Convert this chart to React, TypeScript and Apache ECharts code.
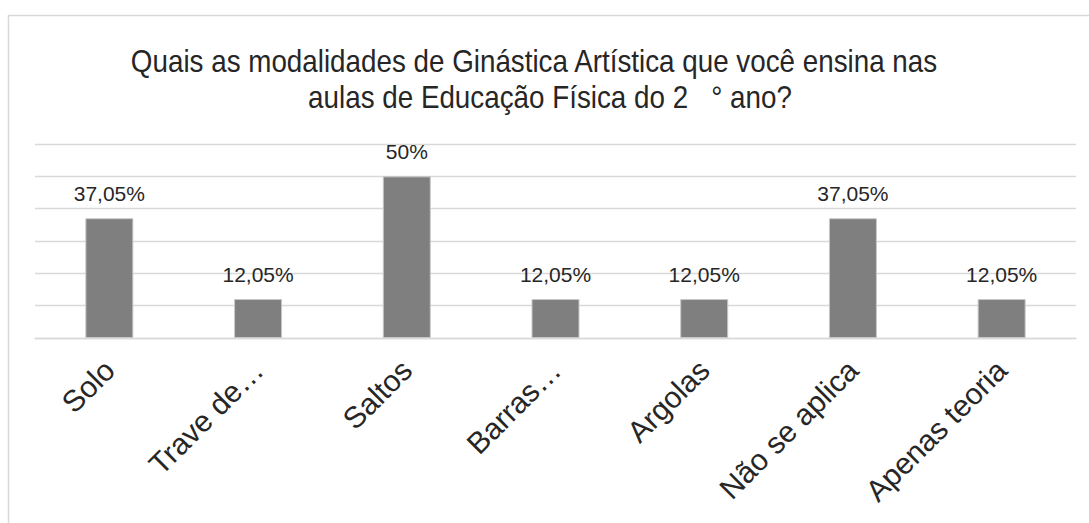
import React, { useEffect, useRef } from "react";
import * as echarts from "echarts";

const categories = ["Solo", "Trave de…", "Saltos", "Barras…", "Argolas", "Não se aplica", "Apenas teoria"];
const values = [37.05, 12.05, 50, 12.05, 12.05, 37.05, 12.05];
const titleLines = [
  "Quais as modalidades de Ginástica Artística que você ensina nas",
  "aulas de Educação Física do 2   ° ano?",
];

const FONT = "'Liberation Sans', Arial, sans-serif";

function fmt(v: number): string {
  if (Number.isInteger(v)) return `${v}%`;
  return v.toFixed(2).replace(".", ",") + "%";
}

export default function App() {
  const ref = useRef<HTMLDivElement>(null);
  useEffect(() => {
    if (!ref.current) return;
    const chart = echarts.init(ref.current, undefined, { renderer: "svg" });
    chart.setOption({
      animation: false,
      backgroundColor: "#ffffff",
      graphic: [
        {
          type: "polyline",
          shape: { points: [[8.5, 600], [8.5, 15.5], [1200, 15.5]] },
          style: { stroke: "#d9d9d9", fill: null, lineWidth: 1.5 },
          silent: true,
        },
        {
          type: "text",
          x: 534,
          y: 61,
          scaleY: 1.12,
          style: { text: titleLines[0], fill: "#262626", font: `27.8px ${FONT}`, textAlign: "center", textVerticalAlign: "middle" },
        },
        {
          type: "text",
          x: 550,
          y: 97,
          scaleY: 1.12,
          style: { text: titleLines[1], fill: "#262626", font: `27.8px ${FONT}`, textAlign: "center", textVerticalAlign: "middle" },
        },
      ],
      grid: { left: 35, right: 13, top: 144, bottom: 185, containLabel: false },
      xAxis: {
        type: "category",
        data: categories,
        axisLine: { show: true, lineStyle: { color: "#d9d9d9", width: 1.3 } },
        axisTick: { show: false },
        axisLabel: {
          rotate: 45,
          interval: 0,
          margin: 27,
          color: "#262626",
          fontSize: 30,
          fontFamily: FONT,
        },
      },
      yAxis: {
        type: "value",
        min: 0,
        max: 60,
        interval: 10,
        axisLabel: { show: false },
        axisLine: { show: false },
        axisTick: { show: false },
        splitLine: { lineStyle: { color: "#d9d9d9", width: 1.3 } },
      },
      series: [
        {
          type: "bar",
          data: values,
          barWidth: 48,
          itemStyle: { color: "#7f7f7f", borderColor: "#c8c8c8", borderWidth: 1 },
          label: {
            show: true,
            position: "top",
            distance: 14,
            color: "#262626",
            fontSize: 21,
            fontFamily: FONT,
            formatter: (p: any) => fmt(p.value),
          },
        },
      ],
    });
    return () => chart.dispose();
  }, []);
  return <div ref={ref} style={{ position: "fixed", left: 0, top: 0, width: 1089, height: 523 }} />;
}
